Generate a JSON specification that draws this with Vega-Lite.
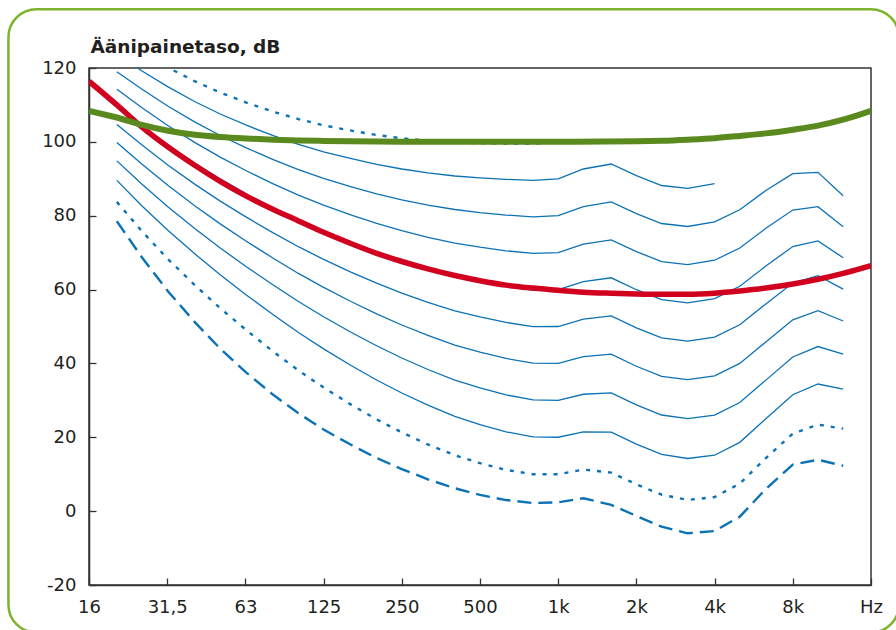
{
  "$schema": "https://vega.github.io/schema/vega-lite/v6.json",
  "autosize": {"type": "none"},
  "padding": {"left": 89, "top": 68, "right": 29, "bottom": 50},
  "width": 782,
  "height": 517,
  "background": "white",
  "datasets": {
    "contours": [
      {"curve":"kynnys","freq":20,"db":78.5},{"curve":"kynnys","freq":25,"db":68.7},{"curve":"kynnys","freq":31.5,"db":59.5},{"curve":"kynnys","freq":40,"db":51.1},{"curve":"kynnys","freq":50,"db":44.0},{"curve":"kynnys","freq":63,"db":37.5},{"curve":"kynnys","freq":80,"db":31.5},{"curve":"kynnys","freq":100,"db":26.5},{"curve":"kynnys","freq":125,"db":22.1},{"curve":"kynnys","freq":160,"db":17.9},{"curve":"kynnys","freq":200,"db":14.4},{"curve":"kynnys","freq":250,"db":11.4},{"curve":"kynnys","freq":315,"db":8.6},{"curve":"kynnys","freq":400,"db":6.2},{"curve":"kynnys","freq":500,"db":4.4},{"curve":"kynnys","freq":630,"db":3.0},{"curve":"kynnys","freq":800,"db":2.2},{"curve":"kynnys","freq":1000,"db":2.4},{"curve":"kynnys","freq":1250,"db":3.5},{"curve":"kynnys","freq":1600,"db":1.7},{"curve":"kynnys","freq":2000,"db":-1.3},{"curve":"kynnys","freq":2500,"db":-4.2},{"curve":"kynnys","freq":3150,"db":-6.0},{"curve":"kynnys","freq":4000,"db":-5.4},{"curve":"kynnys","freq":5000,"db":-1.5},{"curve":"kynnys","freq":6300,"db":6.0},{"curve":"kynnys","freq":8000,"db":12.6},{"curve":"kynnys","freq":10000,"db":13.9},{"curve":"kynnys","freq":12500,"db":12.3},
      {"curve":"10","freq":20,"db":83.75},{"curve":"10","freq":25,"db":75.76},{"curve":"10","freq":31.5,"db":68.21},{"curve":"10","freq":40,"db":61.14},{"curve":"10","freq":50,"db":54.96},{"curve":"10","freq":63,"db":49.01},{"curve":"10","freq":80,"db":43.19},{"curve":"10","freq":100,"db":38.13},{"curve":"10","freq":125,"db":33.48},{"curve":"10","freq":160,"db":28.78},{"curve":"10","freq":200,"db":24.84},{"curve":"10","freq":250,"db":21.33},{"curve":"10","freq":315,"db":18.05},{"curve":"10","freq":400,"db":15.14},{"curve":"10","freq":500,"db":12.98},{"curve":"10","freq":630,"db":11.18},{"curve":"10","freq":800,"db":9.99},{"curve":"10","freq":1000,"db":10.0},{"curve":"10","freq":1250,"db":11.26},{"curve":"10","freq":1600,"db":10.43},{"curve":"10","freq":2000,"db":7.28},{"curve":"10","freq":2500,"db":4.45},{"curve":"10","freq":3150,"db":3.04},{"curve":"10","freq":4000,"db":3.8},{"curve":"10","freq":5000,"db":7.46},{"curve":"10","freq":6300,"db":14.35},{"curve":"10","freq":8000,"db":20.99},{"curve":"10","freq":10000,"db":23.43},{"curve":"10","freq":12500,"db":22.33},
      {"curve":"20","freq":20,"db":89.58},{"curve":"20","freq":25,"db":82.65},{"curve":"20","freq":31.5,"db":75.98},{"curve":"20","freq":40,"db":69.62},{"curve":"20","freq":50,"db":64.02},{"curve":"20","freq":63,"db":58.55},{"curve":"20","freq":80,"db":53.19},{"curve":"20","freq":100,"db":48.38},{"curve":"20","freq":125,"db":43.94},{"curve":"20","freq":160,"db":39.37},{"curve":"20","freq":200,"db":35.51},{"curve":"20","freq":250,"db":31.99},{"curve":"20","freq":315,"db":28.69},{"curve":"20","freq":400,"db":25.67},{"curve":"20","freq":500,"db":23.43},{"curve":"20","freq":630,"db":21.48},{"curve":"20","freq":800,"db":20.1},{"curve":"20","freq":1000,"db":20.01},{"curve":"20","freq":1250,"db":21.46},{"curve":"20","freq":1600,"db":21.4},{"curve":"20","freq":2000,"db":18.15},{"curve":"20","freq":2500,"db":15.38},{"curve":"20","freq":3150,"db":14.26},{"curve":"20","freq":4000,"db":15.14},{"curve":"20","freq":5000,"db":18.63},{"curve":"20","freq":6300,"db":25.02},{"curve":"20","freq":8000,"db":31.52},{"curve":"20","freq":10000,"db":34.43},{"curve":"20","freq":12500,"db":33.05},
      {"curve":"30","freq":20,"db":94.85},{"curve":"30","freq":25,"db":88.52},{"curve":"30","freq":31.5,"db":82.36},{"curve":"30","freq":40,"db":76.45},{"curve":"30","freq":50,"db":71.26},{"curve":"30","freq":63,"db":66.2},{"curve":"30","freq":80,"db":61.22},{"curve":"30","freq":100,"db":56.76},{"curve":"30","freq":125,"db":52.64},{"curve":"30","freq":160,"db":48.38},{"curve":"30","freq":200,"db":44.78},{"curve":"30","freq":250,"db":41.47},{"curve":"30","freq":315,"db":38.36},{"curve":"30","freq":400,"db":35.5},{"curve":"30","freq":500,"db":33.37},{"curve":"30","freq":630,"db":31.49},{"curve":"30","freq":800,"db":30.11},{"curve":"30","freq":1000,"db":30.01},{"curve":"30","freq":1250,"db":31.65},{"curve":"30","freq":1600,"db":32.04},{"curve":"30","freq":2000,"db":28.76},{"curve":"30","freq":2500,"db":26.03},{"curve":"30","freq":3150,"db":25.04},{"curve":"30","freq":4000,"db":26.02},{"curve":"30","freq":5000,"db":29.42},{"curve":"30","freq":6300,"db":35.48},{"curve":"30","freq":8000,"db":41.74},{"curve":"30","freq":10000,"db":44.57},{"curve":"30","freq":12500,"db":42.55},
      {"curve":"40","freq":20,"db":99.85},{"curve":"40","freq":25,"db":93.94},{"curve":"40","freq":31.5,"db":88.17},{"curve":"40","freq":40,"db":82.63},{"curve":"40","freq":50,"db":77.79},{"curve":"40","freq":63,"db":73.08},{"curve":"40","freq":80,"db":68.48},{"curve":"40","freq":100,"db":64.37},{"curve":"40","freq":125,"db":60.59},{"curve":"40","freq":160,"db":56.7},{"curve":"40","freq":200,"db":53.41},{"curve":"40","freq":250,"db":50.4},{"curve":"40","freq":315,"db":47.58},{"curve":"40","freq":400,"db":44.98},{"curve":"40","freq":500,"db":43.05},{"curve":"40","freq":630,"db":41.34},{"curve":"40","freq":800,"db":40.06},{"curve":"40","freq":1000,"db":40.01},{"curve":"40","freq":1250,"db":41.82},{"curve":"40","freq":1600,"db":42.51},{"curve":"40","freq":2000,"db":39.23},{"curve":"40","freq":2500,"db":36.51},{"curve":"40","freq":3150,"db":35.61},{"curve":"40","freq":4000,"db":36.65},{"curve":"40","freq":5000,"db":40.01},{"curve":"40","freq":6300,"db":45.83},{"curve":"40","freq":8000,"db":51.8},{"curve":"40","freq":10000,"db":54.28},{"curve":"40","freq":12500,"db":51.49},
      {"curve":"50","freq":20,"db":104.72},{"curve":"50","freq":25,"db":99.14},{"curve":"50","freq":31.5,"db":93.69},{"curve":"50","freq":40,"db":88.49},{"curve":"50","freq":50,"db":83.96},{"curve":"50","freq":63,"db":79.61},{"curve":"50","freq":80,"db":75.36},{"curve":"50","freq":100,"db":71.61},{"curve":"50","freq":125,"db":68.17},{"curve":"50","freq":160,"db":64.68},{"curve":"50","freq":200,"db":61.72},{"curve":"50","freq":250,"db":59.04},{"curve":"50","freq":315,"db":56.55},{"curve":"50","freq":400,"db":54.26},{"curve":"50","freq":500,"db":52.59},{"curve":"50","freq":630,"db":51.1},{"curve":"50","freq":800,"db":49.98},{"curve":"50","freq":1000,"db":50.0},{"curve":"50","freq":1250,"db":51.99},{"curve":"50","freq":1600,"db":52.88},{"curve":"50","freq":2000,"db":49.62},{"curve":"50","freq":2500,"db":46.91},{"curve":"50","freq":3150,"db":46.05},{"curve":"50","freq":4000,"db":47.15},{"curve":"50","freq":5000,"db":50.48},{"curve":"50","freq":6300,"db":56.11},{"curve":"50","freq":8000,"db":61.76},{"curve":"50","freq":10000,"db":63.78},{"curve":"50","freq":12500,"db":60.14},
      {"curve":"60","freq":20,"db":109.51},{"curve":"60","freq":25,"db":104.23},{"curve":"60","freq":31.5,"db":99.08},{"curve":"60","freq":40,"db":94.18},{"curve":"60","freq":50,"db":89.96},{"curve":"60","freq":63,"db":85.94},{"curve":"60","freq":80,"db":82.05},{"curve":"60","freq":100,"db":78.65},{"curve":"60","freq":125,"db":75.56},{"curve":"60","freq":160,"db":72.47},{"curve":"60","freq":200,"db":69.87},{"curve":"60","freq":250,"db":67.54},{"curve":"60","freq":315,"db":65.39},{"curve":"60","freq":400,"db":63.45},{"curve":"60","freq":500,"db":62.05},{"curve":"60","freq":630,"db":60.82},{"curve":"60","freq":800,"db":59.89},{"curve":"60","freq":1000,"db":60.0},{"curve":"60","freq":1250,"db":62.15},{"curve":"60","freq":1600,"db":63.19},{"curve":"60","freq":2000,"db":59.96},{"curve":"60","freq":2500,"db":57.26},{"curve":"60","freq":3150,"db":56.42},{"curve":"60","freq":4000,"db":57.57},{"curve":"60","freq":5000,"db":60.89},{"curve":"60","freq":6300,"db":66.36},{"curve":"60","freq":8000,"db":71.66},{"curve":"60","freq":10000,"db":73.16},{"curve":"60","freq":12500,"db":68.63},
      {"curve":"70","freq":20,"db":114.26},{"curve":"70","freq":25,"db":109.25},{"curve":"70","freq":31.5,"db":104.38},{"curve":"70","freq":40,"db":99.78},{"curve":"70","freq":50,"db":95.87},{"curve":"70","freq":63,"db":92.18},{"curve":"70","freq":80,"db":88.64},{"curve":"70","freq":100,"db":85.6},{"curve":"70","freq":125,"db":82.85},{"curve":"70","freq":160,"db":80.17},{"curve":"70","freq":200,"db":77.92},{"curve":"70","freq":250,"db":75.94},{"curve":"70","freq":315,"db":74.16},{"curve":"70","freq":400,"db":72.58},{"curve":"70","freq":500,"db":71.47},{"curve":"70","freq":630,"db":70.5},{"curve":"70","freq":800,"db":69.78},{"curve":"70","freq":1000,"db":70.0},{"curve":"70","freq":1250,"db":72.32},{"curve":"70","freq":1600,"db":73.47},{"curve":"70","freq":2000,"db":70.28},{"curve":"70","freq":2500,"db":67.58},{"curve":"70","freq":3150,"db":66.76},{"curve":"70","freq":4000,"db":67.95},{"curve":"70","freq":5000,"db":71.26},{"curve":"70","freq":6300,"db":76.59},{"curve":"70","freq":8000,"db":81.54},{"curve":"70","freq":10000,"db":82.46},{"curve":"70","freq":12500,"db":77.04},
      {"curve":"80","freq":20,"db":118.99},{"curve":"80","freq":25,"db":114.23},{"curve":"80","freq":31.5,"db":109.65},{"curve":"80","freq":40,"db":105.34},{"curve":"80","freq":50,"db":101.72},{"curve":"80","freq":63,"db":98.36},{"curve":"80","freq":80,"db":95.17},{"curve":"80","freq":100,"db":92.48},{"curve":"80","freq":125,"db":90.09},{"curve":"80","freq":160,"db":87.82},{"curve":"80","freq":200,"db":85.92},{"curve":"80","freq":250,"db":84.31},{"curve":"80","freq":315,"db":82.89},{"curve":"80","freq":400,"db":81.68},{"curve":"80","freq":500,"db":80.86},{"curve":"80","freq":630,"db":80.17},{"curve":"80","freq":800,"db":79.67},{"curve":"80","freq":1000,"db":80.0},{"curve":"80","freq":1250,"db":82.48},{"curve":"80","freq":1600,"db":83.74},{"curve":"80","freq":2000,"db":80.59},{"curve":"80","freq":2500,"db":77.89},{"curve":"80","freq":3150,"db":77.08},{"curve":"80","freq":4000,"db":78.31},{"curve":"80","freq":5000,"db":81.62},{"curve":"80","freq":6300,"db":86.81},{"curve":"80","freq":8000,"db":91.41},{"curve":"80","freq":10000,"db":91.74},{"curve":"80","freq":12500,"db":85.41},
      {"curve":"90","freq":20,"db":123.71},{"curve":"90","freq":25,"db":119.2},{"curve":"90","freq":31.5,"db":114.88},{"curve":"90","freq":40,"db":110.87},{"curve":"90","freq":50,"db":107.55},{"curve":"90","freq":63,"db":104.51},{"curve":"90","freq":80,"db":101.67},{"curve":"90","freq":100,"db":99.33},{"curve":"90","freq":125,"db":97.29},{"curve":"90","freq":160,"db":95.43},{"curve":"90","freq":200,"db":93.89},{"curve":"90","freq":250,"db":92.65},{"curve":"90","freq":315,"db":91.6},{"curve":"90","freq":400,"db":90.76},{"curve":"90","freq":500,"db":90.24},{"curve":"90","freq":630,"db":89.84},{"curve":"90","freq":800,"db":89.55},{"curve":"90","freq":1000,"db":90.0},{"curve":"90","freq":1250,"db":92.65},{"curve":"90","freq":1600,"db":94.0},{"curve":"90","freq":2000,"db":90.88},{"curve":"90","freq":2500,"db":88.18},{"curve":"90","freq":3150,"db":87.38},{"curve":"90","freq":4000,"db":88.66},
      {"curve":"100","freq":20,"db":128.41},{"curve":"100","freq":25,"db":124.15},{"curve":"100","freq":31.5,"db":120.11},{"curve":"100","freq":40,"db":116.38},{"curve":"100","freq":50,"db":113.35},{"curve":"100","freq":63,"db":110.65},{"curve":"100","freq":80,"db":108.16},{"curve":"100","freq":100,"db":106.17},{"curve":"100","freq":125,"db":104.48},{"curve":"100","freq":160,"db":103.03},{"curve":"100","freq":200,"db":101.85},{"curve":"100","freq":250,"db":100.97},{"curve":"100","freq":315,"db":100.3},{"curve":"100","freq":400,"db":99.83},{"curve":"100","freq":500,"db":99.62},{"curve":"100","freq":630,"db":99.5},{"curve":"100","freq":800,"db":99.44},{"curve":"100","freq":1000,"db":100.0}
    ],
    "curves": [
      {"curve":"A","freq":15.625,"db":116.4},{"curve":"A","freq":20,"db":110.0},{"curve":"A","freq":25,"db":104.0},{"curve":"A","freq":31.5,"db":98.6},{"curve":"A","freq":40,"db":93.6},{"curve":"A","freq":50,"db":89.3},{"curve":"A","freq":63,"db":85.3},{"curve":"A","freq":80,"db":81.7},{"curve":"A","freq":100,"db":78.6},{"curve":"A","freq":125,"db":75.5},{"curve":"A","freq":160,"db":72.4},{"curve":"A","freq":200,"db":69.8},{"curve":"A","freq":250,"db":67.6},{"curve":"A","freq":315,"db":65.6},{"curve":"A","freq":400,"db":63.8},{"curve":"A","freq":500,"db":62.4},{"curve":"A","freq":630,"db":61.2},{"curve":"A","freq":800,"db":60.4},{"curve":"A","freq":1000,"db":59.8},{"curve":"A","freq":1250,"db":59.3},{"curve":"A","freq":1600,"db":59.0},{"curve":"A","freq":2000,"db":58.8},{"curve":"A","freq":2500,"db":58.7},{"curve":"A","freq":3150,"db":58.7},{"curve":"A","freq":4000,"db":59.0},{"curve":"A","freq":5000,"db":59.6},{"curve":"A","freq":6300,"db":60.4},{"curve":"A","freq":8000,"db":61.5},{"curve":"A","freq":10000,"db":62.8},{"curve":"A","freq":12500,"db":64.4},{"curve":"A","freq":16000,"db":66.5},
      {"curve":"B","freq":15.625,"db":108.4},{"curve":"B","freq":20,"db":106.6},{"curve":"B","freq":25,"db":104.6},{"curve":"B","freq":31.5,"db":103.0},{"curve":"B","freq":40,"db":101.9},{"curve":"B","freq":50,"db":101.3},{"curve":"B","freq":63,"db":100.9},{"curve":"B","freq":80,"db":100.6},{"curve":"B","freq":100,"db":100.4},{"curve":"B","freq":125,"db":100.25},{"curve":"B","freq":160,"db":100.15},{"curve":"B","freq":250,"db":100.05},{"curve":"B","freq":500,"db":100.0},{"curve":"B","freq":1000,"db":100.0},{"curve":"B","freq":2000,"db":100.15},{"curve":"B","freq":2500,"db":100.3},{"curve":"B","freq":3150,"db":100.6},{"curve":"B","freq":4000,"db":101.0},{"curve":"B","freq":5000,"db":101.6},{"curve":"B","freq":6300,"db":102.3},{"curve":"B","freq":8000,"db":103.3},{"curve":"B","freq":10000,"db":104.4},{"curve":"B","freq":12500,"db":106.0},{"curve":"B","freq":16000,"db":108.4}
    ]
  },
  "layer": [
    {
      "data": {"values": [{"frame": "kehys"}]},
      "mark": {"type": "rect", "filled": false, "color": "#7db42c", "strokeWidth": 2.5, "cornerRadius": 28, "clip": false},
      "encoding": {
        "x": {"datum": 7.65, "type": "quantitative", "scale": {"type": "log", "domain": [15.625, 16000], "nice": false}, "title": null},
        "x2": {"datum": 20500},
        "y": {"datum": 135.9, "type": "quantitative", "scale": {"domain": [-20, 120], "nice": false, "zero": false}, "title": null},
        "y2": {"datum": -32.9}
      }
    },
    {
      "data": {"name": "contours"},
      "transform": [{"filter": "datum.curve != 'kynnys' && datum.curve != '10' && datum.curve != '100'"}],
      "mark": {"type": "line", "color": "#0c72b6", "strokeWidth": 1.3, "clip": true},
      "encoding": {
        "x": {
          "field": "freq", "type": "quantitative",
          "scale": {"type": "log", "domain": [15.625, 16000], "nice": false},
          "title": null,
          "axis": {
            "values": [15.625, 31.25, 62.5, 125, 250, 500, 1000, 2000, 4000, 8000, 16000],
            "labelExpr": "datum.value == 15.625 ? '16' : datum.value == 31.25 ? '31,5' : datum.value == 62.5 ? '63' : datum.value >= 16000 ? 'Hz' : datum.value >= 1000 ? (datum.value / 1000) + 'k' : '' + datum.value",
            "tickSize": -7, "labelPadding": 20, "labelFlush": false, "labelOverlap": false, "labelBound": false
          }
        },
        "y": {
          "field": "db", "type": "quantitative",
          "scale": {"domain": [-20, 120], "nice": false, "zero": false},
          "title": "Äänipainetaso, dB",
          "axis": {
            "values": [-20, -10, 0, 10, 20, 30, 40, 50, 60, 70, 80, 90, 100, 110, 120],
            "labelExpr": "datum.value % 20 == 0 ? '' + datum.value : ''",
            "tickSize": -7, "labelPadding": 20, "labelOverlap": false,
            "titleAngle": 0, "titleAlign": "left", "titleBaseline": "alphabetic", "titleX": 1, "titleY": -16
          }
        },
        "detail": {"field": "curve"}
      }
    },
    {
      "data": {"name": "contours"},
      "transform": [{"filter": "datum.curve == '10' || datum.curve == '100'"}],
      "mark": {"type": "line", "color": "#0c72b6", "strokeWidth": 2.4, "strokeDash": [4, 7], "clip": true},
      "encoding": {
        "x": {"field": "freq", "type": "quantitative"},
        "y": {"field": "db", "type": "quantitative"},
        "detail": {"field": "curve"}
      }
    },
    {
      "data": {"name": "contours"},
      "transform": [{"filter": "datum.curve == 'kynnys'"}],
      "mark": {"type": "line", "color": "#0c72b6", "strokeWidth": 2.4, "strokeDash": [14, 7], "clip": true},
      "encoding": {
        "x": {"field": "freq", "type": "quantitative"},
        "y": {"field": "db", "type": "quantitative"}
      }
    },
    {
      "data": {"name": "curves"},
      "transform": [{"filter": "datum.curve == 'A'"}],
      "mark": {"type": "line", "color": "#d1001f", "strokeWidth": 5.5, "interpolate": "monotone", "clip": true},
      "encoding": {
        "x": {"field": "freq", "type": "quantitative"},
        "y": {"field": "db", "type": "quantitative"}
      }
    },
    {
      "data": {"name": "curves"},
      "transform": [{"filter": "datum.curve == 'B'"}],
      "mark": {"type": "line", "color": "#5a8a1e", "strokeWidth": 6, "interpolate": "monotone", "clip": true},
      "encoding": {
        "x": {"field": "freq", "type": "quantitative"},
        "y": {"field": "db", "type": "quantitative"}
      }
    }
  ],
  "config": {
    "view": {"stroke": "#333333", "strokeWidth": 1.5},
    "axis": {
      "grid": false,
      "domainColor": "#333333", "domainWidth": 1.5,
      "tickColor": "#333333", "tickWidth": 1.3,
      "labelFont": "DejaVu Sans", "labelFontSize": 18, "labelColor": "#231f20",
      "titleFont": "DejaVu Sans", "titleFontSize": 18.5, "titleFontWeight": "bold", "titleColor": "#231f20"
    }
  }
}
